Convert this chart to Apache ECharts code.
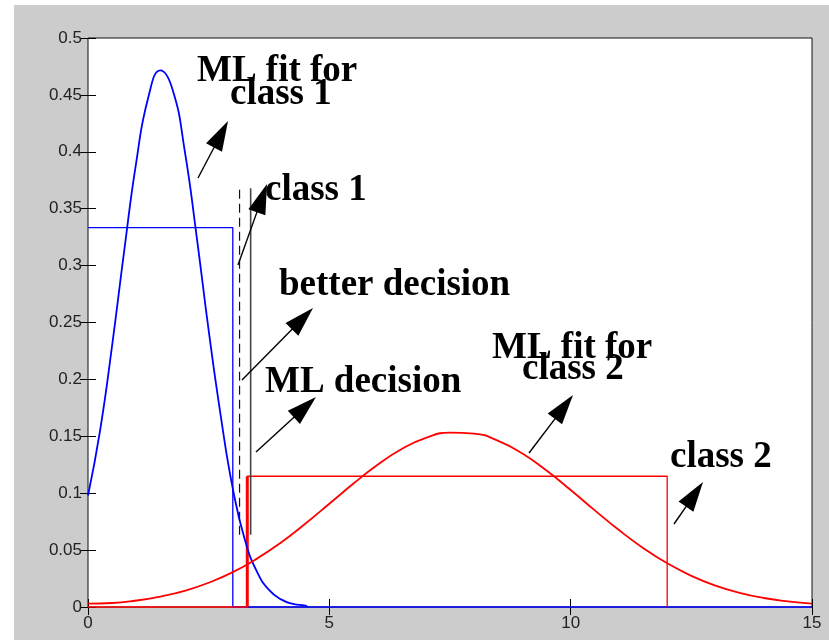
<!DOCTYPE html>
<html><head><meta charset="utf-8">
<script src="https://cdn.jsdelivr.net/npm/echarts@6/dist/echarts.min.js"></script>
<style>
html,body{margin:0;padding:0;background:#fff;}
#bg{position:absolute;left:14px;top:5px;right:0;bottom:0;background:#cccccc;}
#main{position:absolute;left:0;top:0;width:829px;height:640px;}
</style></head><body>
<div id="bg"></div><div id="main"></div>
<script>
// ---- data ----
const xTickLabels = ['0', '5', '10', '15'];
const yTickLabels = ['0', '0.05', '0.1', '0.15', '0.2', '0.25', '0.3', '0.35', '0.4', '0.45', '0.5'];

// class 1 true (uniform) density
const class1X = [0, 3, 3, 15];
const class1Y = [0.3333, 0.3333, 0, 0];
// class 2 true (uniform) density
const class2X = [0, 3.3, 3.3, 12, 12];
const class2Y = [0, 0, 0.1149, 0.1149, 0];
const class2EdgeX = [3.3, 3.3];
const class2EdgeY = [0, 0.1149];

// ML Gaussian fit for class 1
const fit1X = [0, 0.25, 0.5, 0.75, 1, 1.25, 1.5, 1.75, 2, 2.25, 2.5, 2.75, 3, 3.25, 3.5, 3.75, 4, 4.25, 4.5, 4.55];
const fit1Y = [0.098, 0.155, 0.23, 0.313, 0.391, 0.448, 0.4715, 0.455, 0.402, 0.326, 0.243, 0.168, 0.104, 0.059, 0.031, 0.015, 0.0067, 0.0027, 0.0012, 0];

// ML Gaussian fit for class 2
const fit2X = [0, 0.5, 1, 1.5, 2, 2.5, 3, 3.5, 4, 4.5, 5, 5.5, 6, 6.5, 7, 7.5, 8, 8.5, 9, 9.5, 10, 10.5, 11, 11.5, 12, 12.5, 13, 13.5, 14, 14.5, 15];
const fit2Y = [0.003, 0.0035, 0.0057, 0.0092, 0.0142, 0.0213, 0.0306, 0.0425, 0.0567, 0.0731, 0.0907, 0.1085, 0.125, 0.1388, 0.1486, 0.1533, 0.1524, 0.146, 0.1348, 0.1199, 0.1028, 0.0849, 0.0676, 0.0519, 0.0384, 0.0274, 0.0188, 0.0124, 0.0079, 0.0049, 0.0029];

// decision boundaries
const betterDecisionX = [3.14, 3.14];
const betterDecisionY = [0.0635, 0.368];
const mlDecisionX = [3.37, 3.37];
const mlDecisionY = [0.0635, 0.368];

// annotation texts
const annotationTexts = ['ML fit for', 'class 1', 'class 1', 'better decision', 'ML decision', 'ML fit for', 'class 2', 'class 2'];

// ---- layout ----
const textPos = [[197, 84], [230, 107], [265, 203], [279, 298], [265, 395], [492, 361], [522, 382], [670, 470]];
const arrowPos = [[198, 178, 228, 121], [238, 265, 267, 184], [242, 380, 313, 308], [256, 452, 316, 397], [529, 453, 573, 395], [674, 524, 703, 482]];

const zip = (xs, ys) => xs.map((x, i) => [x, ys[i]]);

const graphics = [];
annotationTexts.forEach((t, i) => {
  graphics.push({
    type: 'text', silent: true, z: 100,
    style: { text: t, x: textPos[i][0], y: textPos[i][1] - 12.5, font: 'bold 37px "Liberation Serif"', fill: '#000', textAlign: 'left', verticalAlign: 'middle' }
  });
});
arrowPos.forEach(a => {
  const [x1, y1, x2, y2] = a;
  const dx = x2 - x1, dy = y2 - y1, L = Math.hypot(dx, dy);
  const ux = dx / L, uy = dy / L;
  const hl = 30, hw = 9;
  const bx = x2 - ux * hl, by = y2 - uy * hl;
  graphics.push({ type: 'line', silent: true, z: 100, shape: { x1: x1, y1: y1, x2: bx + ux * 2, y2: by + uy * 2 }, style: { stroke: '#000', lineWidth: 1.4 } });
  graphics.push({ type: 'polygon', silent: true, z: 100, shape: { points: [[x2, y2], [bx - uy * hw, by + ux * hw], [bx + uy * hw, by - ux * hw]] }, style: { fill: '#000' } });
});

const labelStyle = { color: '#222', fontFamily: '"Liberation Sans", Arial, sans-serif', fontSize: 17 };
const tickStyle = { show: true, inside: true, length: 8, lineStyle: { color: '#000', width: 1 } };

function lineSeries(xs, ys, color, width, extra) {
  return Object.assign({
    type: 'line', data: zip(xs, ys), showSymbol: false, symbol: 'none', clip: false,
    lineStyle: { color: color, width: width }, animation: false, silent: true
  }, extra || {});
}

const chart = echarts.init(document.getElementById('main'), null, { renderer: 'canvas' });
chart.setOption({
  backgroundColor: 'transparent',
  animation: false,
  grid: { left: 88, right: 17, top: 38, bottom: 33, show: true, backgroundColor: '#fff', borderColor: '#111', borderWidth: 1 },
  xAxis: [
    { type: 'value', min: 0, max: 15, interval: 5, axisLine: { show: false }, axisTick: tickStyle, splitLine: { show: false },
      axisLabel: Object.assign({ margin: 8, formatter: v => xTickLabels[Math.round(v / 5)] }, labelStyle) },
    { type: 'value', position: 'top', min: 0, max: 15, interval: 5, axisLine: { show: false }, axisTick: tickStyle, splitLine: { show: false }, axisLabel: { show: false } }
  ],
  yAxis: [
    { type: 'value', min: 0, max: 0.5, interval: 0.05, axisLine: { show: false }, axisTick: tickStyle, splitLine: { show: false },
      axisLabel: Object.assign({ margin: 6, formatter: v => yTickLabels[Math.round(v / 0.05)] }, labelStyle) },
    { type: 'value', position: 'right', min: 0, max: 0.5, interval: 0.05, axisLine: { show: false }, axisTick: tickStyle, splitLine: { show: false }, axisLabel: { show: false } }
  ],
  series: [
    lineSeries(class1X, class1Y, '#0000ff', 1.3),
    lineSeries(class2X, class2Y, '#ff0000', 1.3),
    lineSeries(class2EdgeX, class2EdgeY, '#ff0000', 3),
    lineSeries(fit1X, fit1Y, '#0000ff', 1.8, { smooth: 0.5 }),
    lineSeries(fit2X, fit2Y, '#ff0000', 1.8, { smooth: 0.5 }),
    lineSeries(betterDecisionX, betterDecisionY, '#111', 1.2, { lineStyle: { color: '#111', width: 1.2, type: [9, 5] } }),
    lineSeries(mlDecisionX, mlDecisionY, '#444', 1.6)
  ],
  graphic: graphics
});
</script>
</body></html>
